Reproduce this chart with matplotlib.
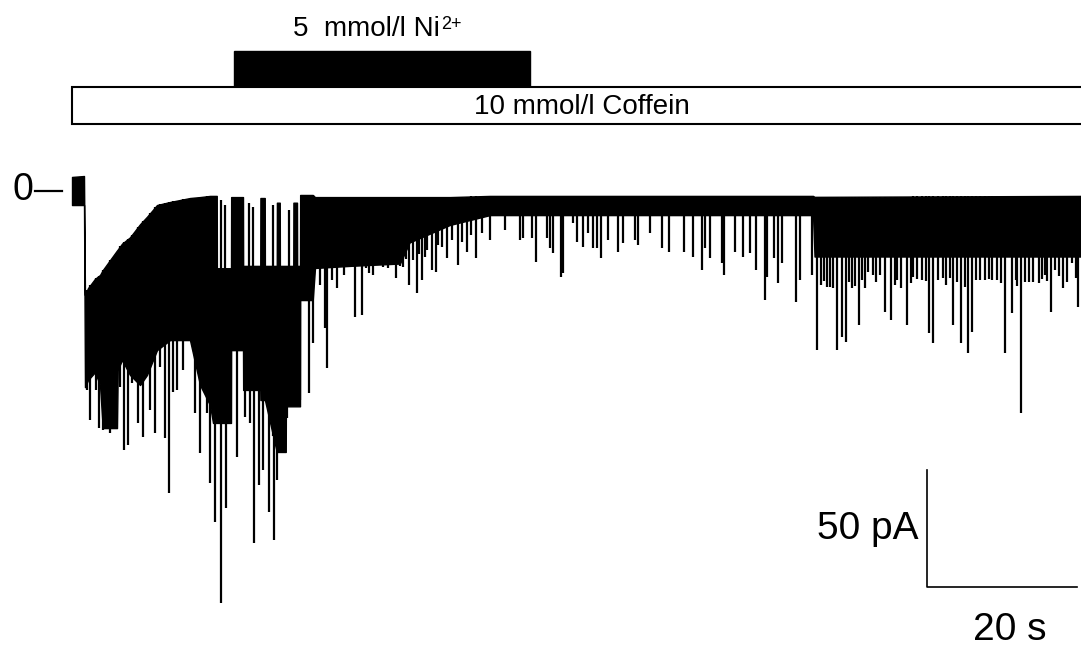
import numpy as np
import matplotlib
matplotlib.use("Agg")
import matplotlib.pyplot as plt
from matplotlib.patches import Rectangle

plt.rcParams['font.family'] = ['Liberation Sans', 'DejaVu Sans']

# dense part of the trace: time (s), upper and lower edge (pA)
band_t = [0, 1.6, 1.73, 2.13, 3.07, 3.73, 4.1, 6.0, 6.1, 6.67, 7.73, 9.07, 10.0, 11.33,
          13.07, 15.73, 17.07, 18.4, 18.8, 19.3, 19.32, 21.2, 21.22, 22.8, 22.82, 25.1,
          25.12, 25.7, 25.72, 27.3, 27.32, 27.7, 27.72, 28.5, 28.52, 29.5, 29.52, 30.0,
          30.02, 30.4, 30.42, 32.1, 32.4, 37.07, 43.73, 45.0, 50.4, 55.73, 98.8, 99.0,
          134.6]
band_top = [6.0, 6.4, -44.4, -41.5, -37.5, -35.9, -33.8, -25.4, -25.0, -22.5, -19.8, -14.2,
            -11.0, -6.0, -4.7, -3.0, -2.6, -2.1, -2.1, -2.1, -33.0, -33.0, -2.6, -2.6, -32.0,
            -32.0, -3.0, -3.0, -32.0, -32.0, -5.0, -5.0, -32.0, -32.0, -32.0, -32.0, -5.0,
            -5.0, -32.0, -32.0, -1.7, -1.7, -2.6, -2.6, -2.6, -2.6, -2.6, -2.1, -2.1, -2.5,
            -2.1]
band_low = [-6.0, -6.0, -83.8, -80.8, -77.4, -82.9, -101.3, -101.3, -76.5, -72.2, -78.6, -82.9,
            -78.6, -68.0, -63.7, -63.7, -82.9, -91.5, -99.1, -99.1, -99.1, -99.1, -68.0, -68.0,
            -85.0, -85.0, -89.3, -89.3, -89.3, -111.5, -111.5, -111.5, -111.5, -111.5, -92.0,
            -92.0, -92.0, -92.0, -92.0, -92.0, -46.6, -46.6, -32.9, -32.0, -31.0, -22.0, -14.5,
            -10.3, -10.3, -28.0, -28.0]

# tall openings reaching back up towards zero inside the Ni phase: time (s), top (pA)
up_t = [19.9, 20.4, 23.6, 24.1, 26.8, 28.9]
up_i = [-4.0, -6.0, -5.0, -7.0, -6.0, -8.0]

# single openings: time (s) and peak current (pA)
spike_t = [2.0, 2.4, 3.2, 3.6, 4.1, 5.1, 6.4, 6.9, 7.5, 8.0, 8.8, 9.5, 10.4, 11.1, 11.7, 12.4,
           12.9, 13.5, 14.0, 14.8, 16.4, 17.1, 18.0, 18.4, 19.1, 19.9, 20.5, 22.0, 23.1, 23.7,
           24.3, 24.9, 25.5, 26.3, 26.9, 27.3, 28.7, 29.9, 30.4, 31.6, 32.1, 33.7, 34.0, 35.3,
           37.7, 38.7, 40.1, 41.5, 43.2, 44.1, 44.9, 45.5, 46.0, 46.7, 47.3, 48.0, 48.5, 49.3,
           50.0, 51.5, 52.7, 53.9, 55.7, 57.7, 59.7, 60.1, 61.3, 61.9, 63.3, 63.7, 64.1, 65.2,
           65.5, 66.8, 67.3, 68.1, 68.8, 69.5, 70.0, 70.5, 71.5, 72.8, 73.5, 75.1, 75.5, 77.1,
           78.7, 79.6, 81.6, 82.8, 84.0, 84.4, 85.1, 86.7, 86.9, 88.4, 89.5, 90.4, 91.2, 92.4,
           92.7, 93.6, 94.1, 94.7, 96.5, 97.1, 98.7, 99.3, 100.7, 101.5, 102.0, 102.7, 103.2,
           104.0, 104.9, 106.1, 106.8, 107.7, 108.4, 109.2, 110.5, 111.3, 112.1, 113.3, 114.3,
           114.8, 115.5, 116.1, 117.5, 118.5, 119.5, 120.0, 121.1, 121.7, 122.7, 123.3, 124.4,
           125.3, 126.5, 127.1, 128.1, 128.9, 129.7, 130.5, 131.1, 132.1, 133.3, 134.1,
           99.8, 100.2, 101.0, 103.6, 104.4, 105.3, 105.7, 107.2, 109.7, 110.0, 111.9, 112.7,
           113.9, 116.5, 117.0, 118.0, 119.0, 120.5, 122.2, 123.8, 125.8, 126.0, 127.6, 129.3,
           130.0, 131.6, 132.6, 133.8,
           33.1, 34.6, 36.2, 39.2, 39.6, 40.8, 42.1, 42.7, 43.7, 44.5, 46.3, 47.1, 48.8, 50.7,
           52.0, 53.2, 54.7]
spike_i = [-85.0, -97.9, -85.0, -101.3, -102.1, -103.4, -83.8, -110.7, -108.5, -82.1, -99.1, -105.1,
           -93.6, -103.4, -75.2, -105.6, -129.1, -85.9, -85.0, -76.5, -94.9, -112.0, -94.9, -124.8,
           -141.5, -176.1, -135.5, -113.7, -96.6, -99.1, -150.4, -125.6, -119.2, -137.2, -149.1,
           -123.5, -97.0, -88.5, -89.3, -86.3, -65.0, -58.5, -75.6, -41.5, -53.8, -53.0, -35.9,
           -32.5, -37.2, -32.5, -40.2, -29.5, -43.6, -38.0, -25.2, -33.8, -34.6, -23.9, -28.6,
           -31.6, -26.1, -28.6, -20.9, -16.7, -20.9, -20.1, -20.1, -30.3, -20.1, -24.4, -26.5,
           -36.8, -35.0, -13.7, -21.8, -23.9, -17.9, -24.4, -24.4, -28.6, -20.9, -26.1, -22.2,
           -20.9, -23.1, -17.9, -24.4, -26.1, -26.1, -28.2, -33.8, -24.4, -28.6, -30.8, -35.9,
           -26.1, -28.2, -26.5, -33.8, -46.6, -36.8, -28.6, -39.3, -30.8, -47.4, -38.0, -35.9,
           -67.9, -41.0, -41.5, -67.9, -62.4, -64.5, -41.5, -57.3, -34.6, -35.9, -35.9, -51.7,
           -55.1, -41.5, -57.3, -36.8, -38.0, -60.7, -65.0, -38.0, -37.2, -57.3, -65.0, -69.2,
           -60.3, -38.0, -38.0, -38.0, -38.0, -69.2, -52.1, -94.9, -38.9, -38.9, -39.3, -35.9,
           -51.7, -33.8, -41.5, -30.8, -49.6,
           -40.0, -38.5, -41.0, -39.0, -40.5, -38.0, -41.5, -39.0, -40.0, -38.0, -39.5, -37.5,
           -38.5, -40.0, -37.0, -39.0, -41.0, -38.0, -37.5, -39.5, -38.0, -40.5, -39.0, -37.5,
           -38.5, -36.5, -39.0, -37.0,
           -40.0, -38.0, -36.0, -33.0, -35.0, -31.0, -33.0, -30.0, -32.0, -29.0, -27.0, -28.0,
           -23.0, -21.0, -22.0, -19.0, -18.0]

ni_on, ni_off = 21.6, 61.1
scale_pa, scale_s = 50, 20

fig = plt.figure(figsize=(10.81, 6.46), dpi=100)
ax = fig.add_axes([0, 0, 1, 1])
ax.set_xlim(-9.6, 134.53)
ax.set_ylim(-194.4, 81.6)
ax.axis('off')

# trace
ax.fill_between(band_t, band_low, band_top, color='black', lw=1.0)
spike_top = np.interp(spike_t, band_t, band_top)
ax.vlines(spike_t, spike_i, spike_top, color='black', lw=1.6)
up_base = np.interp(up_t, band_t, band_low)
ax.vlines(up_t, up_base, up_i, color='black', lw=1.6)

# zero marker
ax.text(-6.6, 0.5, '0', fontsize=27, ha='center', va='center')
ax.plot([-4.9, -1.4], [0, 0], color='black', lw=1.6)

# application bars
ax.add_patch(Rectangle((ni_on, 44.9), ni_off - ni_on, 14.9, facecolor='black',
                       edgecolor='black', lw=1))
ax.add_patch(Rectangle((0, 28.6), 140, 15.8, facecolor='white', edgecolor='black', lw=1.5))
ni_txt = ax.text(29.4, 69.0, '5  mmol/l Ni', fontsize=20, ha='left', va='center')
ax.annotate('2+', xy=(1.0, 1.0), xycoords=ni_txt, xytext=(1, 0), textcoords='offset points',
            fontsize=13, ha='left', va='top')
ax.text(68.0, 36.0, '10 mmol/l Coffein', fontsize=20, ha='center', va='center')

# scale bar
x0, y0 = 114.0, -169.2
ax.plot([x0, x0, x0 + scale_s], [y0 + scale_pa, y0, y0], color='black', lw=1.2)
ax.text(x0 - 1.2, y0 + scale_pa / 2, '%d pA' % scale_pa, fontsize=28, ha='right', va='center')
ax.text(x0 + scale_s / 2 + 1.0, -187.5, '%d s' % scale_s, fontsize=28, ha='center', va='center')

fig.savefig('out.png', dpi=100)
